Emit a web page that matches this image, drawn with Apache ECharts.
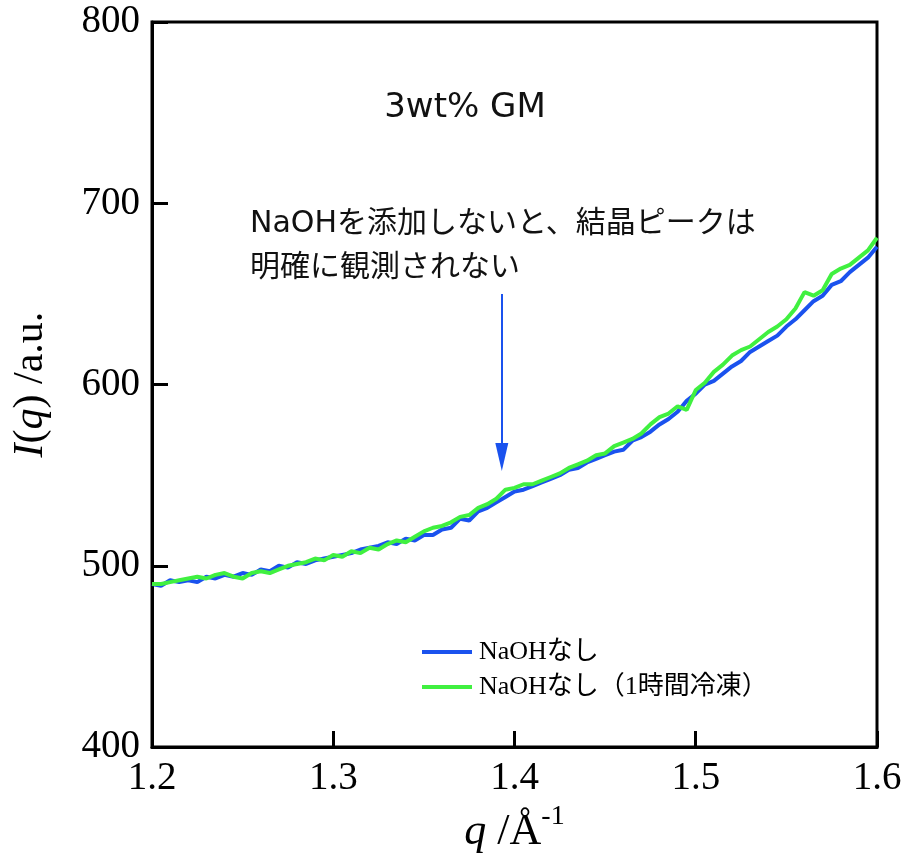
<!DOCTYPE html>
<html>
<head>
<meta charset="utf-8">
<script src="https://cdn.jsdelivr.net/npm/echarts@6/dist/echarts.min.js"></script>
<style>
  html, body { margin: 0; padding: 0; background: #fff; }
  #chart { width: 907px; height: 859px; }
</style>
</head>
<body>
<div id="chart"></div>
<script>
// Scattering vector q (1/Å)
const q = [
  1.200, 1.205, 1.210, 1.215, 1.220, 1.225, 1.230, 1.235, 1.240, 1.245,
  1.250, 1.255, 1.260, 1.265, 1.270, 1.275, 1.280, 1.285, 1.290, 1.295,
  1.300, 1.305, 1.310, 1.315, 1.320, 1.325, 1.330, 1.335, 1.340, 1.345,
  1.350, 1.355, 1.360, 1.365, 1.370, 1.375, 1.380, 1.385, 1.390, 1.395,
  1.400, 1.405, 1.410, 1.415, 1.420, 1.425, 1.430, 1.435, 1.440, 1.445,
  1.450, 1.455, 1.460, 1.465, 1.470, 1.475, 1.480, 1.485, 1.490, 1.495,
  1.500, 1.505, 1.510, 1.515, 1.520, 1.525, 1.530, 1.535, 1.540, 1.545,
  1.550, 1.555, 1.560, 1.565, 1.570, 1.575, 1.580, 1.585, 1.590, 1.595,
  1.600
];

// I(q), no NaOH
const noNaOH = [
  490, 489, 492, 491, 492, 491, 494, 493, 495, 494,
  496, 495, 498, 497, 500, 499, 502, 501, 503, 504,
  505, 506, 507, 509, 510, 511, 513, 512, 515, 514,
  517, 517, 520, 521, 526, 525, 530, 532, 535, 538,
  541, 542, 544, 546, 548, 550, 553, 554, 557, 559,
  561, 563, 564, 569, 571, 574, 578, 581, 585, 591,
  595, 600, 602, 606, 610, 613, 618, 621, 624, 627,
  632, 636, 641, 646, 649, 655, 657, 662, 666, 670,
  676
];

// I(q), no NaOH, frozen for 1 hour
const noNaOHFrozen = [
  490, 490, 491, 492, 493, 494, 493, 495, 496, 494,
  493, 496, 497, 496, 498, 500, 501, 502, 504, 503,
  506, 505, 508, 507, 510, 509, 512, 514, 513, 516,
  519, 521, 522, 524, 527, 528, 532, 534, 537, 542,
  543, 545, 545, 547, 549, 551, 554, 556, 558, 561,
  562, 566, 568, 570, 573, 578, 582, 584, 588, 586,
  597, 601, 607, 611, 616, 619, 621, 625, 629, 632,
  636, 642, 651, 649, 652, 661, 664, 666, 670, 674,
  681
];

const seriesNames = ['NaOHなし', 'NaOHなし（1時間冷凍）'];
const xTicks = [1.2, 1.3, 1.4, 1.5, 1.6];
const yTicks = [400, 500, 600, 700, 800];

// Annotation arrow (from, to) in data coordinates; the head is centred on "to"
const arrowFrom = [1.393, 650];
const arrowTo = [1.393, 560];

const pairs = (ys) => q.map((x, i) => [x, ys[i]]);

const SERIF = '"Liberation Serif", "Times New Roman", serif';
const SANS = '"DejaVu Sans", "Noto Sans CJK JP", sans-serif';
const LEGEND_FONT = '"Liberation Serif", "Noto Sans CJK JP", serif';

const chart = echarts.init(document.getElementById('chart'), null, { renderer: 'canvas' });

chart.setOption({
  animation: false,
  backgroundColor: '#ffffff',
  grid: {
    left: 152, right: 30, top: 22, bottom: 111,
    show: true, borderColor: '#000', borderWidth: 3,
    containLabel: false
  },
  legend: {
    data: seriesNames,
    orient: 'vertical',
    left: 417,
    top: 633,
    itemWidth: 50,
    itemHeight: 4,
    itemGap: 7,
    icon: 'rect',
    textStyle: {
      fontFamily: LEGEND_FONT,
      fontSize: 26,
      color: '#000',
      lineHeight: 28,
      padding: [0, 0, 0, 2]
    }
  },
  xAxis: {
    type: 'value',
    min: xTicks[0],
    max: xTicks[xTicks.length - 1],
    interval: 0.1,
    name: '{it|q}{n| /Å}{sup|-1}',
    nameLocation: 'middle',
    nameGap: 46,
    nameTextStyle: {
      rich: {
        it: { fontFamily: SERIF, fontStyle: 'italic', fontSize: 44, color: '#000' },
        n: { fontFamily: SERIF, fontSize: 44, color: '#000' },
        sup: { fontFamily: SERIF, fontSize: 28, color: '#000', verticalAlign: 'top', padding: [0, 0, 30, 0] }
      }
    },
    axisLine: { lineStyle: { color: '#000', width: 3 } },
    axisTick: { inside: true, length: 16, lineStyle: { color: '#000', width: 3 } },
    axisLabel: {
      fontFamily: SERIF, fontSize: 39, color: '#000', margin: 12,
      formatter: (v) => v.toFixed(1)
    },
    splitLine: { show: false }
  },
  yAxis: {
    type: 'value',
    min: yTicks[0],
    max: yTicks[yTicks.length - 1],
    interval: 100,
    name: '{it|I}{n|(}{it|q}{n|) /a.u.}',
    nameLocation: 'middle',
    nameGap: 100,
    nameRotate: 90,
    nameTextStyle: {
      rich: {
        it: { fontFamily: SERIF, fontStyle: 'italic', fontSize: 42, color: '#000' },
        n: { fontFamily: SERIF, fontSize: 42, color: '#000' }
      }
    },
    axisLine: { lineStyle: { color: '#000', width: 3 } },
    axisTick: { inside: true, length: 16, lineStyle: { color: '#000', width: 3 } },
    axisLabel: { fontFamily: SERIF, fontSize: 39, color: '#000', margin: 12 },
    splitLine: { show: false }
  },
  series: [
    {
      name: seriesNames[0],
      type: 'line',
      data: pairs(noNaOH),
      showSymbol: false,
      symbol: 'none',
      color: '#1a52ee',
      lineStyle: { color: '#1a52ee', width: 4 },
      z: 2,
      markLine: {
        silent: true,
        symbol: ['none', 'triangle'],
        symbolSize: 20,
        label: { show: false },
        lineStyle: { color: '#1a52ee', width: 2, type: 'solid' },
        data: [[
          { coord: arrowFrom, symbol: 'none' },
          { coord: arrowTo, symbol: 'triangle', symbolSize: [13, 28] }
        ]]
      }
    },
    {
      name: seriesNames[1],
      type: 'line',
      data: pairs(noNaOHFrozen),
      showSymbol: false,
      symbol: 'none',
      color: '#40f040',
      lineStyle: { color: '#40f040', width: 4 },
      z: 3
    }
  ],
  graphic: [
    {
      type: 'text',
      x: 465,
      y: 108,
      style: {
        text: '3wt% GM',
        font: '34px ' + SANS,
        fill: '#111',
        align: 'center',
        verticalAlign: 'middle',
        textAlign: 'center',
        textVerticalAlign: 'middle'
      }
    },
    {
      type: 'text',
      x: 250,
      y: 202,
      style: {
        text: 'NaOHを添加しないと、結晶ピークは\n明確に観測されない',
        font: '30px ' + SANS,
        lineHeight: 44,
        fill: '#111',
        align: 'left',
        verticalAlign: 'top',
        textAlign: 'left',
        textVerticalAlign: 'top'
      }
    }
  ]
});
</script>
</body>
</html>
